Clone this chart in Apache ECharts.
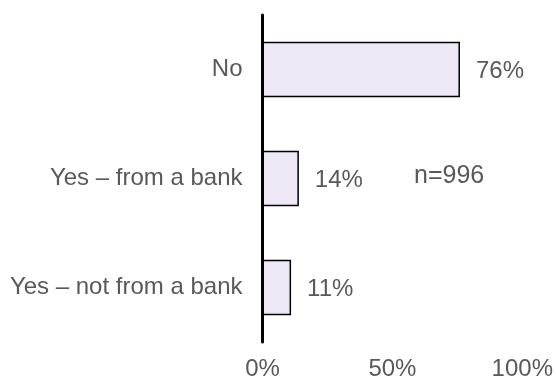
<!DOCTYPE html>
<html>
<head>
<meta charset="utf-8">
<script src="https://cdn.jsdelivr.net/npm/echarts@6/dist/echarts.min.js"></script>
<style>
  html, body { margin: 0; padding: 0; background: #fff; }
  #chart { width: 556px; height: 381px; }
</style>
</head>
<body>
<div id="chart"></div>
<script>
// Survey answers and their shares (percent)
const categories = ['No', 'Yes – from a bank', 'Yes – not from a bank'];
const shares = [76, 14, 11];
const xTicks = [0, 50, 100];
const sampleNote = 'n=996';

const textColor = '#595959';
const fontFamily = '"Liberation Sans", Arial, sans-serif';
const fontSize = 24;

const chart = echarts.init(document.getElementById('chart'), null, { renderer: 'canvas' });

chart.setOption({
  animation: false,
  backgroundColor: '#ffffff',
  grid: { left: 262.5, right: 33.5, top: 15, bottom: 37.5, containLabel: false },
  xAxis: {
    type: 'value',
    min: xTicks[0],
    max: xTicks[xTicks.length - 1],
    interval: xTicks[1] - xTicks[0],
    axisLine: { show: false },
    axisTick: { show: false },
    splitLine: { show: false },
    axisLabel: {
      formatter: v => v + '%',
      color: textColor,
      fontSize: fontSize,
      fontFamily: fontFamily,
      margin: 15
    }
  },
  yAxis: {
    type: 'category',
    inverse: true,
    data: categories,
    axisLine: { show: true, lineStyle: { color: '#000', width: 3 } },
    axisTick: { show: false },
    axisLabel: {
      color: textColor,
      fontSize: fontSize,
      fontFamily: fontFamily,
      margin: 20
    }
  },
  series: [{
    type: 'bar',
    data: shares,
    barCategoryGap: '49%',
    itemStyle: { color: '#EDE7F6', borderColor: '#000', borderWidth: 1.5 },
    label: {
      show: true,
      position: 'right',
      distance: 16,
      offset: [0, 2],
      formatter: p => p.value + '%',
      color: textColor,
      fontSize: fontSize,
      fontFamily: fontFamily
    },
    z: 1
  }],
  graphic: [{
    type: 'text',
    left: 414,
    top: 164,
    style: {
      text: sampleNote,
      fill: textColor,
      font: '25px ' + fontFamily
    }
  }]
});
</script>
</body>
</html>
